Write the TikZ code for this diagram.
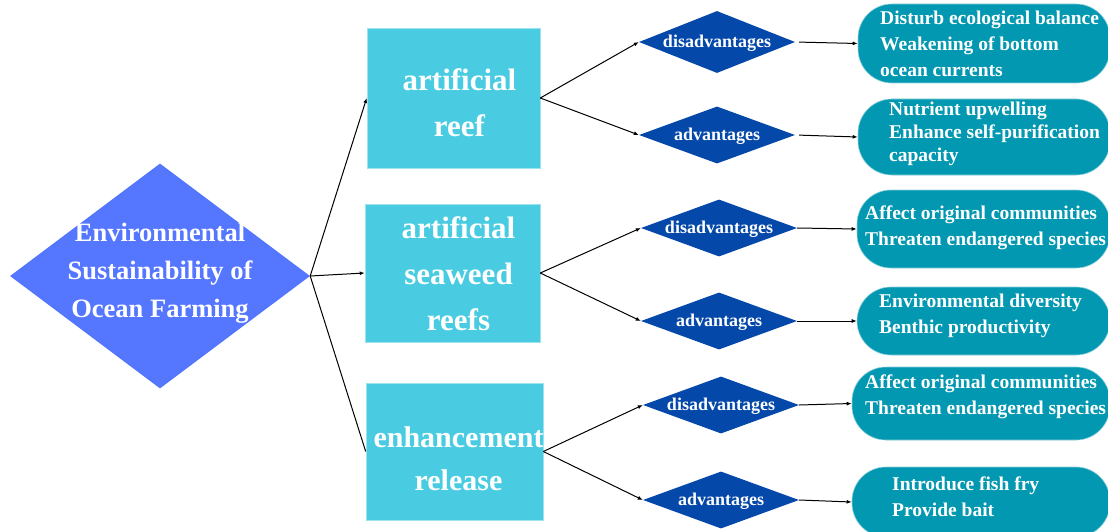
\documentclass[tikz,border=0pt]{standalone}
\usepackage{fontspec}
\setmainfont{Liberation Serif}
\usetikzlibrary{shapes.geometric,arrows.meta}
\definecolor{maincol}{RGB}{85,118,255}
\definecolor{boxcol}{RGB}{73,204,226}
\definecolor{dcol}{RGB}{4,72,170}
\definecolor{rcol}{RGB}{3,152,177}
\begin{document}
\begin{tikzpicture}[x=1pt,y=-1pt,
 conn/.style={line width=1pt, -{Latex[length=5pt,width=4pt]}},
 plainconn/.style={line width=1pt},
 maindia/.style={diamond, fill=maincol, minimum width=300pt, minimum height=225pt, inner sep=0pt},
 catbox/.style={rectangle, fill=boxcol, draw=boxcol!55!white, line width=0.6pt, inner sep=0pt},
 smalldia/.style={diamond, fill=dcol, minimum width=156pt, minimum height=57pt, inner sep=0pt},
 outbox/.style={rectangle, rounded corners=34pt, fill=rcol, draw=rcol!45!white, line width=0.6pt, inner sep=0pt},
 maintext/.style={text=white, font=\bfseries\fontsize{26.5}{38}\selectfont, align=center},
 diatext/.style={text=white, font=\bfseries\fontsize{18}{22}\selectfont, yshift=-1pt},
 bigtext/.style={text=white, font=\bfseries\fontsize{31}{46}\selectfont, align=center},
 outtext/.style={text=white, font=\bfseries\fontsize{19.5}{26}\selectfont, align=left, anchor=west, inner sep=0pt},
]
\useasboundingbox (0,0) rectangle (1108,532);

% main diamond
\node[maindia, label={[maintext, yshift=3pt]center:Environmental\\Sustainability of\\Ocean Farming}] (main) at (160,276) {};

% category boxes
\node[catbox, minimum width=173pt, minimum height=140pt,
      label={[bigtext, xshift=6pt, yshift=-5pt]center:artificial\\reef}] (b1) at (453.5,98) {};
\node[catbox, minimum width=175pt, minimum height=138pt,
      label={[bigtext, xshift=6pt, yshift=-1pt]center:artificial\\seaweed\\reefs}] (b2) at (452.5,273) {};
\node[catbox, minimum width=177pt, minimum height=137pt,
      label={[bigtext, xshift=4pt, yshift=-7pt, font=\bfseries\fontsize{30}{43}\selectfont]center:enhancement\\release}] (b3) at (454.5,451.5) {};

% small diamonds
\node[smalldia, minimum height=62pt, label={[diatext]center:disadvantages}] (d1) at (717,42) {};
\node[smalldia, label={[diatext]center:advantages}] (a1) at (717,135) {};
\node[smalldia, label={[diatext]center:disadvantages}] (d2) at (719,228) {};
\node[smalldia, label={[diatext]center:advantages}] (a2) at (719,321) {};
\node[smalldia, label={[diatext]center:disadvantages}] (d3) at (721,405) {};
\node[smalldia, label={[diatext]center:advantages}] (a3) at (721,500) {};

% outcome boxes
\node[outbox, minimum width=252pt, minimum height=79pt] (o1) at (984,43.5) {};
\node[outbox, minimum width=252pt, minimum height=76pt] (o2) at (984,137) {};
\node[outbox, minimum width=253pt, minimum height=78pt] (o3) at (983.5,229) {};
\node[outbox, minimum width=253pt, minimum height=68pt] (o4) at (983.5,321) {};
\node[outbox, minimum width=258pt, minimum height=73pt] (o5) at (981,403.5) {};
\node[outbox, minimum width=258pt, minimum height=70pt] (o6) at (981,502) {};

\node[outtext] (t1) at (880,44) {Disturb ecological balance\\Weakening of bottom\\ocean currents};
\node[outtext, font=\bfseries\fontsize{19.5}{23}\selectfont] (t2) at (889,134) {Nutrient upwelling\\Enhance self-purification\\capacity};
\node[outtext] (t3) at (865,228) {Affect original communities\\Threaten endangered species};
\node[outtext] (t4) at (879,316) {Environmental diversity\\Benthic productivity};
\node[outtext] (t5) at (865,397) {Affect original communities\\Threaten endangered species};
\node[outtext] (t6) at (892,497) {Introduce fish fry\\Provide bait};

% connectors
\draw[conn] (main.east) -- (b1.west);
\draw[conn] (main.east) -- (b2.west);
\draw[plainconn] (main.east) -- (b3.west);

\draw[conn] (b1.east) -- (d1.west);
\draw[conn] (b1.east) -- (a1.west);
\draw[conn] (b2.east) -- (d2.west);
\draw[conn] (b2.east) -- (a2.west);
\draw[conn] (b3.east) -- (d3.west);
\draw[conn] (b3.east) -- (a3.west);

\draw[conn, shorten <=4pt] (d1.east) -- (o1.west);
\draw[conn, shorten <=4pt] (a1.east) -- (o2.west);
\draw[conn] (d2.east) -- (o3.west);
\draw[conn] (a2.east) -- (o4.west);
\draw[conn] (d3.east) -- (o5.west);
\draw[conn] (a3.east) -- (o6.west);
\end{tikzpicture}
\end{document}
